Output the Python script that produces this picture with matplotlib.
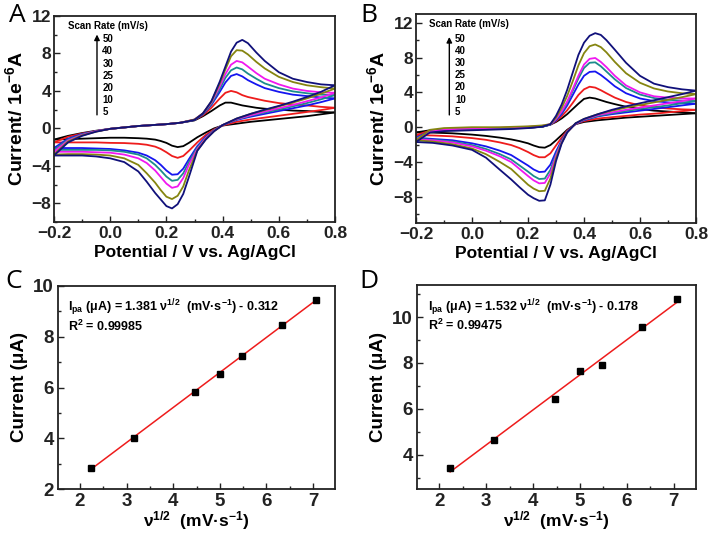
import matplotlib
matplotlib.use("Agg")
import matplotlib.pyplot as plt
from matplotlib.ticker import MultipleLocator

plt.rcParams['font.family'] = ['Liberation Sans', 'DejaVu Sans']
plt.rcParams['font.weight'] = 'bold'
plt.rcParams['mathtext.fontset'] = 'custom'
plt.rcParams['mathtext.rm'] = 'Liberation Sans:bold'
plt.rcParams['mathtext.bf'] = 'Liberation Sans:bold'
plt.rcParams['mathtext.it'] = 'Liberation Sans:bold'
plt.rcParams['mathtext.default'] = 'bf'

# -----------------------------------------------------------------------------
#         Data
# -----------------------------------------------------------------------------
scan_rates = ['5', '10', '20', '25', '30', '40', '50']
colors = ['#000000', '#ee1c1c', '#1515f0', '#1c8c8c', '#f018f0', '#858510', '#10107a']

# Panel A: forward (anodic) and reverse (cathodic) sweeps, current in 1e-6 A
a_fwd_E = [-0.2, -0.15, -0.1, -0.05, 0.0, 0.05, 0.1, 0.15, 0.2, 0.25,
           0.3, 0.33, 0.36, 0.39, 0.41, 0.43, 0.45, 0.47, 0.49, 0.52, 0.55, 0.6, 0.65, 0.7, 0.75, 0.8]
a_fwd_5 = [-1.2, -0.8, -0.5, -0.25, -0.05, 0.1, 0.25, 0.35, 0.45, 0.6,
           0.85, 1.3, 1.85, 2.45, 2.75, 2.75, 2.6, 2.45, 2.35, 2.2, 2.1, 2.0, 1.9, 1.85, 1.75, 1.7]
a_fwd_10 = [-1.5, -0.9, -0.55, -0.3, -0.05, 0.1, 0.25, 0.35, 0.45, 0.6,
            0.9, 1.4, 2.2, 3.2, 3.8, 4.0, 3.85, 3.55, 3.35, 3.15, 2.95, 2.7, 2.55, 2.45, 2.3, 2.2]
a_fwd_20 = [-2.1, -1.1, -0.6, -0.3, -0.05, 0.1, 0.25, 0.35, 0.45, 0.6,
            0.9, 1.5, 2.5, 3.9, 4.9, 5.6, 5.8, 5.55, 5.15, 4.7, 4.3, 3.9, 3.6, 3.45, 3.3, 3.2]
a_fwd_25 = [-2.3, -1.2, -0.65, -0.3, -0.05, 0.1, 0.25, 0.35, 0.45, 0.6,
            0.9, 1.55, 2.6, 4.2, 5.4, 6.2, 6.5, 6.3, 5.85, 5.3, 4.8, 4.3, 3.95, 3.75, 3.6, 3.55]
a_fwd_30 = [-2.5, -1.3, -0.7, -0.3, -0.05, 0.1, 0.25, 0.35, 0.45, 0.6,
            0.95, 1.6, 2.75, 4.5, 5.8, 6.8, 7.2, 7.05, 6.6, 5.9, 5.3, 4.7, 4.25, 4.0, 3.85, 3.8]
a_fwd_40 = [-2.8, -1.4, -0.75, -0.35, -0.05, 0.1, 0.25, 0.35, 0.45, 0.6,
            0.95, 1.6, 2.85, 4.8, 6.3, 7.7, 8.35, 8.3, 7.9, 7.1, 6.4, 5.5, 4.95, 4.6, 4.4, 4.25]
a_fwd_50 = [-2.9, -1.5, -0.8, -0.35, -0.05, 0.1, 0.25, 0.35, 0.45, 0.6,
            0.9, 1.6, 2.9, 5.0, 6.6, 8.2, 9.15, 9.45, 9.1, 8.1, 7.2, 6.0, 5.3, 4.95, 4.7, 4.6]

a_rev_E = [0.8, 0.75, 0.7, 0.65, 0.6, 0.55, 0.5, 0.45,
           0.4, 0.37, 0.34, 0.31, 0.28, 0.26, 0.24, 0.22, 0.2, 0.18, 0.16, 0.13, 0.1,
           0.05, 0.0, -0.05, -0.1, -0.15, -0.2]
a_rev_5 = [1.7, 1.5, 1.3, 1.15, 1.0, 0.85, 0.7, 0.5,
           0.3, 0.0, -0.45, -0.95, -1.55, -1.9, -2.0, -1.85, -1.55, -1.35, -1.2, -1.1, -1.05,
           -1.0, -1.0, -1.05, -1.1, -1.15, -1.2]
a_rev_10 = [2.2, 1.95, 1.75, 1.55, 1.35, 1.15, 0.95, 0.7,
            0.3, -0.1, -0.7, -1.5, -2.4, -2.95, -3.15, -2.95, -2.55, -2.2, -1.95, -1.75, -1.65,
            -1.57, -1.55, -1.5, -1.5, -1.5, -1.5]
a_rev_20 = [3.2, 2.8, 2.45, 2.15, 1.85, 1.55, 1.25, 0.9,
            0.35, -0.2, -0.9, -1.9, -3.3, -4.3, -4.9, -4.95, -4.5, -3.9, -3.4, -2.9, -2.6,
            -2.35, -2.2, -2.15, -2.1, -2.1, -2.1]
a_rev_25 = [3.55, 3.1, 2.7, 2.35, 2.0, 1.7, 1.35, 0.95,
            0.35, -0.2, -1.0, -2.05, -3.6, -4.8, -5.5, -5.6, -5.15, -4.5, -3.9, -3.2, -2.8,
            -2.5, -2.35, -2.3, -2.3, -2.3, -2.3]
a_rev_30 = [3.8, 3.3, 2.9, 2.5, 2.15, 1.8, 1.4, 1.0,
            0.35, -0.25, -1.05, -2.2, -3.9, -5.3, -6.2, -6.35, -5.9, -5.2, -4.5, -3.7, -3.2,
            -2.8, -2.6, -2.55, -2.5, -2.5, -2.5]
a_rev_40 = [4.25, 3.7, 3.2, 2.75, 2.35, 1.95, 1.55, 1.05,
            0.35, -0.3, -1.15, -2.35, -4.5, -6.2, -7.2, -7.55, -7.3, -6.6, -5.8, -4.8, -3.9,
            -3.2, -2.9, -2.8, -2.75, -2.75, -2.8]
a_rev_50 = [4.6, 3.9, 3.35, 2.85, 2.4, 2.0, 1.55, 1.05,
            0.35, -0.3, -1.2, -2.4, -5.2, -7.0, -8.1, -8.55, -8.3, -7.6, -6.9, -5.7, -4.6,
            -3.6, -3.2, -3.0, -2.9, -2.9, -2.9]

# Panel B
b_fwd_E = [-0.2, -0.15, -0.1, -0.05, 0.0, 0.05, 0.1, 0.15, 0.2, 0.25,
           0.28, 0.3, 0.32, 0.34, 0.36, 0.38, 0.4, 0.42, 0.44, 0.46, 0.48, 0.51, 0.55, 0.6,
           0.65, 0.7, 0.75, 0.8]
b_fwd_5 = [-0.6, -0.35, -0.3, -0.28, -0.25, -0.2, -0.15, -0.1, -0.05, 0.05,
           0.3, 0.6, 1.0, 1.5, 2.1, 2.7, 3.25, 3.4, 3.3, 3.1, 2.9, 2.65, 2.35, 2.1,
           1.9, 1.8, 1.7, 1.6]
b_fwd_10 = [-0.9, -0.4, -0.3, -0.28, -0.25, -0.2, -0.15, -0.1, -0.05, 0.05,
            0.3, 0.7, 1.25, 1.95, 2.8, 3.7, 4.35, 4.65, 4.55, 4.25, 3.9, 3.4, 2.9, 2.5,
            2.3, 2.15, 2.05, 2.0]
b_fwd_20 = [-1.2, -0.45, -0.3, -0.28, -0.25, -0.2, -0.15, -0.1, -0.05, 0.05,
            0.3, 0.8, 1.5, 2.5, 3.7, 4.9, 5.9, 6.35, 6.4, 6.0, 5.5, 4.7, 3.9, 3.3,
            3.0, 2.85, 2.75, 2.7]
b_fwd_25 = [-1.3, -0.5, -0.3, -0.28, -0.25, -0.2, -0.15, -0.1, -0.05, 0.05,
            0.3, 0.9, 1.7, 2.8, 4.2, 5.6, 6.8, 7.4, 7.45, 7.0, 6.4, 5.5, 4.5, 3.75,
            3.35, 3.15, 3.05, 3.0]
b_fwd_30 = [-1.4, -0.5, -0.3, -0.2, -0.15, -0.1, -0.05, 0.0, 0.05, 0.15,
            0.35, 0.95, 1.8, 2.95, 4.4, 5.9, 7.2, 7.85, 7.95, 7.5, 6.9, 5.9, 4.8, 4.0,
            3.55, 3.4, 3.3, 3.3]
b_fwd_40 = [-1.5, -0.3, -0.1, -0.05, 0.0, 0.0, 0.0, 0.05, 0.1, 0.2,
            0.35, 1.1, 2.2, 3.6, 5.3, 7.1, 8.5, 9.3, 9.5, 9.2, 8.6, 7.5, 6.2, 5.1,
            4.45, 4.1, 3.9, 3.8]
b_fwd_50 = [-1.7, -0.6, -0.45, -0.4, -0.35, -0.3, -0.25, -0.2, -0.1, 0.05,
            0.35, 1.3, 2.6, 4.3, 6.3, 8.3, 9.7, 10.5, 10.8, 10.6, 10.0, 8.9, 7.4, 5.9,
            5.0, 4.6, 4.35, 4.2]

b_rev_E = [0.8, 0.75, 0.7, 0.65, 0.6, 0.55, 0.5, 0.45, 0.4, 0.37, 0.34, 0.32, 0.3,
           0.28, 0.26, 0.24, 0.22, 0.2, 0.17, 0.14, 0.1, 0.05, 0.0, -0.07, -0.14, -0.2]
b_rev_5 = [1.6, 1.5, 1.4, 1.3, 1.2, 1.1, 0.95, 0.8, 0.6, 0.35, -0.3, -0.9, -1.5,
           -2.05, -2.35, -2.3, -2.1, -1.85, -1.6, -1.4, -1.2, -1.0, -0.85, -0.7, -0.62, -0.6]
b_rev_10 = [2.0, 1.85, 1.7, 1.55, 1.45, 1.3, 1.15, 1.0, 0.7, 0.4, -0.4, -1.2, -2.1,
            -3.0, -3.45, -3.45, -3.2, -2.85, -2.4, -2.05, -1.75, -1.45, -1.25, -1.05, -0.95, -0.9]
b_rev_20 = [2.7, 2.5, 2.3, 2.1, 1.9, 1.7, 1.5, 1.25, 0.8, 0.4, -0.5, -1.5, -2.8,
            -4.3, -5.1, -5.15, -4.85, -4.4, -3.8, -3.2, -2.7, -2.2, -1.85, -1.5, -1.35, -1.2]
b_rev_25 = [3.0, 2.75, 2.5, 2.3, 2.1, 1.85, 1.6, 1.3, 0.85, 0.4, -0.5, -1.6, -3.1,
            -4.9, -5.9, -5.95, -5.6, -5.1, -4.4, -3.7, -3.1, -2.5, -2.05, -1.65, -1.45, -1.3]
b_rev_30 = [3.3, 3.0, 2.75, 2.5, 2.25, 2.0, 1.7, 1.4, 0.9, 0.4, -0.55, -1.7, -3.3,
            -5.3, -6.4, -6.45, -6.1, -5.6, -4.8, -4.0, -3.35, -2.7, -2.2, -1.75, -1.5, -1.4]
b_rev_40 = [3.8, 3.45, 3.15, 2.85, 2.55, 2.25, 1.9, 1.5, 0.95, 0.45, -0.6, -1.8, -3.6,
            -5.9, -7.3, -7.35, -7.05, -6.6, -5.7, -4.8, -4.0, -3.1, -2.45, -1.95, -1.65, -1.5]
b_rev_50 = [4.2, 3.8, 3.45, 3.1, 2.75, 2.4, 2.0, 1.5, 0.95, 0.45, -0.6, -1.9, -3.9,
            -6.6, -8.4, -8.45, -8.15, -7.75, -6.9, -6.0, -4.9, -3.5, -2.6, -2.1, -1.8, -1.7]

# Panels C and D: anodic peak current vs square root of scan rate
sqrt_rate = [2.236, 3.162, 4.472, 5.0, 5.477, 6.325, 7.071]
c_ipa = [2.83, 4.02, 5.83, 6.55, 7.24, 8.47, 9.45]
d_ipa = [3.42, 4.62, 6.43, 7.65, 7.93, 9.56, 10.80]
c_fit = (1.381, -0.312)
d_fit = (1.532, -0.178)

# -----------------------------------------------------------------------------
#         Plots
# -----------------------------------------------------------------------------
W, H = 709, 535
fig = plt.figure(figsize=(W / 100, H / 100), dpi=100)


def px_axes(left, top, right, bottom):
    return fig.add_axes([left / W, 1 - bottom / H, (right - left) / W, (bottom - top) / H])


def style(ax, labelsize):
    for sp in ax.spines.values():
        sp.set_linewidth(1.3)
        sp.set_color('#222222')
    ax.tick_params(which='both', direction='in', top=False, right=False,
                   labelsize=labelsize, width=1.0, colors='#222222')
    ax.tick_params(which='major', length=4, pad=5)
    ax.tick_params(which='minor', length=2.5)
    for lab in ax.get_xticklabels() + ax.get_yticklabels():
        lab.set_fontweight('bold')


def cv_panel(ax, fwd_E, fwds, rev_E, revs, ylim, leg):
    for f, r, c in zip(fwds, revs, colors):
        ax.plot(fwd_E, f, color=c, lw=1.3)
        ax.plot(rev_E, r, color=c, lw=1.3)
    ax.set_xlim(-0.2, 0.8)
    ax.set_ylim(*ylim)
    ax.set_xticks([-0.2, 0.0, 0.2, 0.4, 0.6, 0.8])
    ax.xaxis.set_minor_locator(MultipleLocator(0.1))
    ax.set_yticks([-8, -4, 0, 4, 8, 12])
    ax.yaxis.set_minor_locator(MultipleLocator(2))
    ax.set_xlabel('Potential / V vs. Ag/AgCl', fontsize=12.5, fontweight='bold', labelpad=3)
    ax.set_ylabel('Current/ 1e$^{-6}$A', fontsize=14, fontweight='bold', labelpad=4)
    style(ax, 12.5)
    ax.tick_params(axis='x', which='major', pad=3)
    ax.tick_params(axis='y', which='major', pad=2)
    tx, ty, ax_x, y_tip, y_tail, nx, y_top, y_bot = leg
    ax.text(tx, ty, 'Scan Rate (mV/s)', transform=ax.transAxes, fontsize=7,
            fontweight='bold', va='center', ha='left')
    ax.annotate('', xy=(ax_x, y_tip), xytext=(ax_x, y_tail), xycoords='axes fraction',
                arrowprops=dict(arrowstyle='-|>', color='black', lw=1.0,
                                mutation_scale=8, shrinkA=0, shrinkB=0))
    n = len(scan_rates)
    for i, s in enumerate(reversed(scan_rates)):
        y = y_top + (y_bot - y_top) * i / (n - 1)
        ax.text(nx, y, s, transform=ax.transAxes, fontsize=7, fontweight='bold',
                va='center', ha='left')


def fit_panel(ax, y, fit, ylim, yticks, txt, r2):
    k, b = fit
    x0, x1 = sqrt_rate[0], sqrt_rate[-1]
    ax.plot([x0, x1], [k * x0 + b, k * x1 + b], color='#ee1c1c', lw=1.1, zorder=2)
    ax.plot(sqrt_rate, y, 's', color='black', ms=4, zorder=3)
    ax.set_xlim(1.53, 7.47)
    ax.set_ylim(*ylim)
    ax.set_xticks([2, 3, 4, 5, 6, 7])
    ax.xaxis.set_minor_locator(MultipleLocator(0.5))
    ax.set_yticks(yticks)
    ax.yaxis.set_minor_locator(MultipleLocator(1))
    ax.set_xlabel(r'ν$^{1/2}$  (mV·s$^{-1}$)', fontsize=12.5, fontweight='bold', labelpad=-1)
    ax.set_ylabel('Current (μA)', fontsize=13.5, fontweight='bold', labelpad=4)
    style(ax, 13.5)
    ax.tick_params(which='major', pad=3)
    tx, ty, ry = txt
    ax.text(tx, ty, r'I$_{pa}$ (μA) = %.3f ν$^{1/2}$  (mV·s$^{-1}$) - %.3f' % (k, -b),
            transform=ax.transAxes, fontsize=9, fontweight='bold', va='center')
    ax.text(tx, ry, r2, transform=ax.transAxes, fontsize=9, fontweight='bold', va='center')


axA = px_axes(54, 16, 335, 222)
cv_panel(axA, a_fwd_E, [a_fwd_5, a_fwd_10, a_fwd_20, a_fwd_25, a_fwd_30, a_fwd_40, a_fwd_50],
         a_rev_E, [a_rev_5, a_rev_10, a_rev_20, a_rev_25, a_rev_30, a_rev_40, a_rev_50],
         (-10, 12), (0.05, 0.95, 0.153, 0.91, 0.52, 0.172, 0.887, 0.534))

axB = px_axes(416, 14, 696, 223)
cv_panel(axB, b_fwd_E, [b_fwd_5, b_fwd_10, b_fwd_20, b_fwd_25, b_fwd_30, b_fwd_40, b_fwd_50],
         b_rev_E, [b_rev_5, b_rev_10, b_rev_20, b_rev_25, b_rev_30, b_rev_40, b_rev_50],
         (-11, 13), (0.046, 0.952, 0.119, 0.89, 0.517, 0.139, 0.879, 0.533))

axC = px_axes(58, 286, 335, 489)
fit_panel(axC, c_ipa, c_fit, (2, 10), [2, 4, 6, 8, 10], (0.036, 0.895, 0.803), 'R$^2$ = 0.99985')

axD = px_axes(417, 285, 696, 489)
fit_panel(axD, d_ipa, d_fit, (2.5, 11.4), [4, 6, 8, 10], (0.04, 0.89, 0.80), 'R$^2$ = 0.99475')

for lab, (x, y) in zip('ABCD', [(17, 16), (369, 15), (14, 281), (369, 282)]):
    fig.text(x / W, 1 - y / H, lab, fontsize=19, fontweight='normal',
             family=['Open Sans', 'DejaVu Sans'], ha='center', va='center')

fig.savefig('out.png', dpi=100)
